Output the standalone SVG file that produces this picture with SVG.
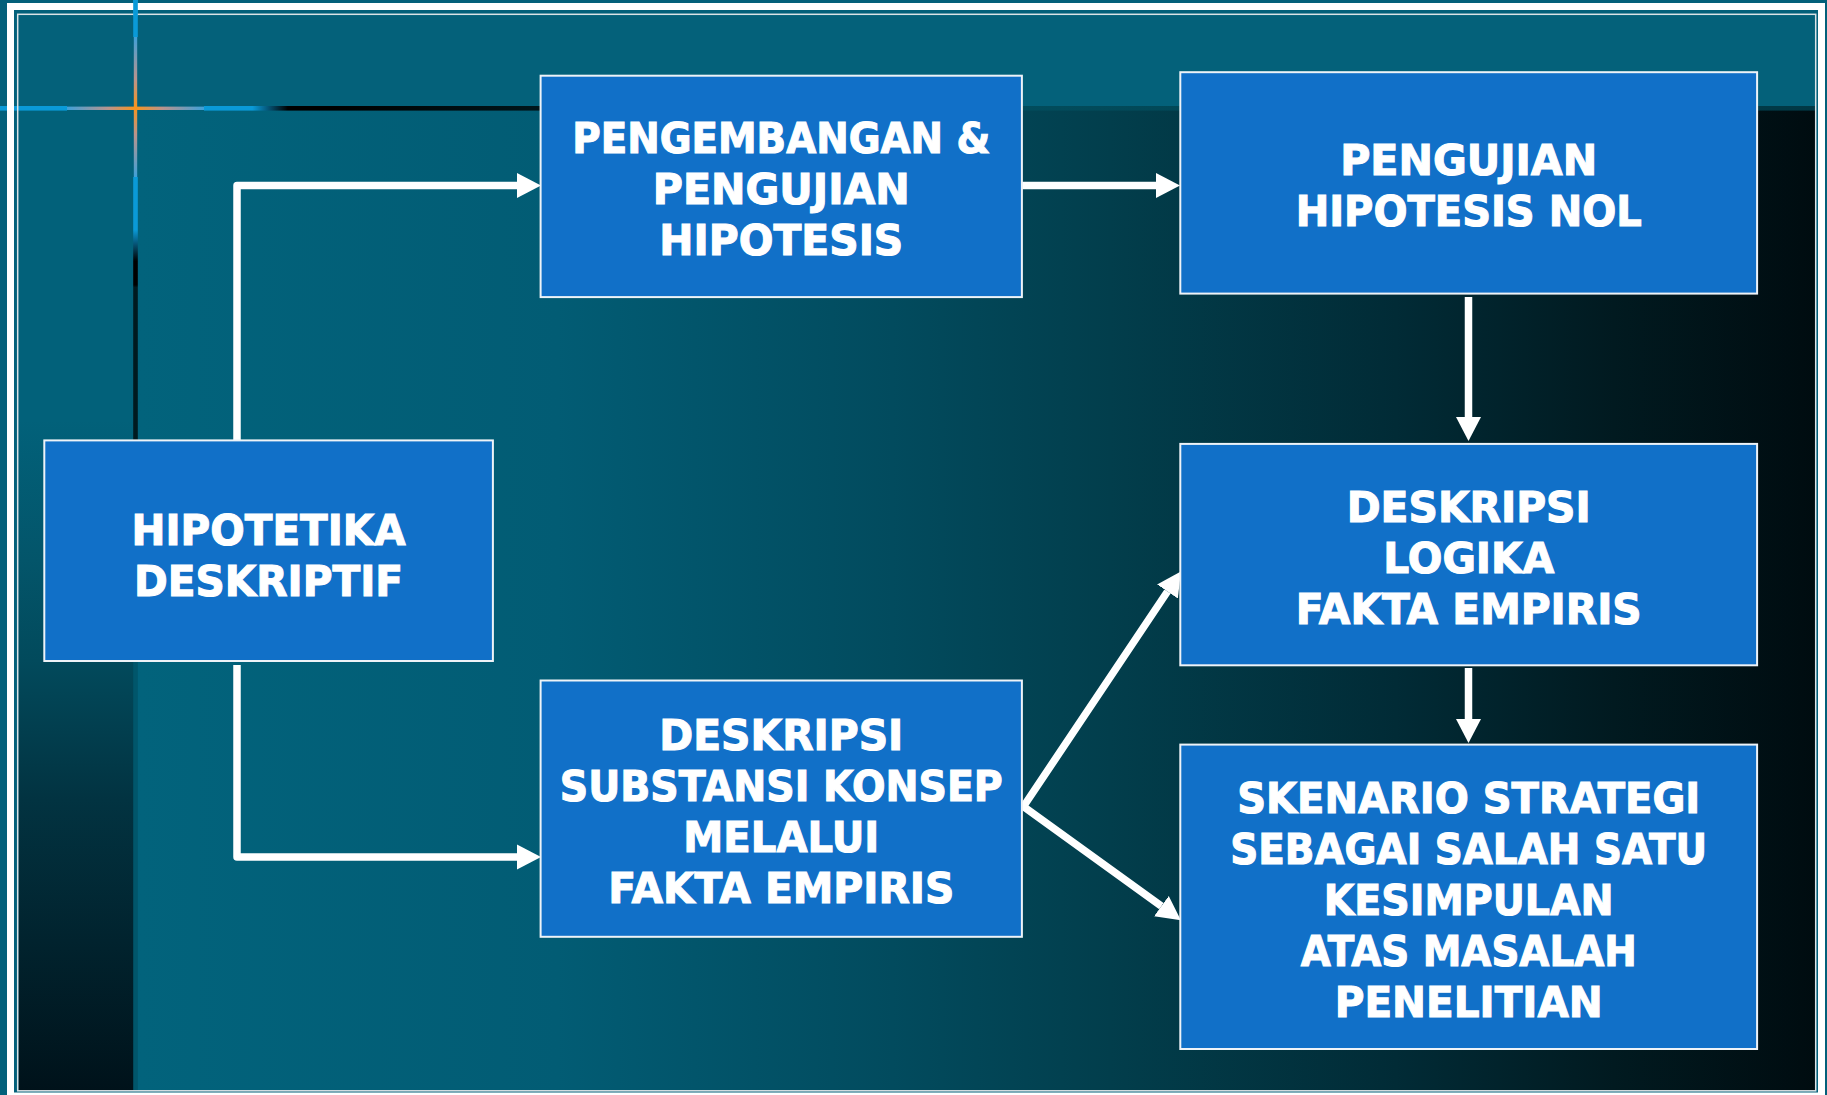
<svg xmlns="http://www.w3.org/2000/svg" width="1827" height="1095" viewBox="0 0 1827 1095">
  <defs>
    <style>
      .box { fill: #1170C8; stroke: #EEF3F8; stroke-width: 2; }
      .lbl { font-family: "DejaVu Sans", "Liberation Sans", sans-serif; font-weight: bold; font-size: 42px; fill: #FFFFFF; stroke: #FFFFFF; stroke-width: 1.1px; text-anchor: middle; }
      .conn { fill: none; stroke: #FFFFFF; stroke-width: 7.5; stroke-linejoin: round; }
    </style>
    <marker id="arr" markerUnits="userSpaceOnUse" markerWidth="30" markerHeight="30" viewBox="0 -15 30 30" refX="0" refY="0" orient="auto-start-reverse">
      <path d="M0,-12.5 L24,0 L0,12.5 Z" fill="#FFFFFF"/>
    </marker>
    <linearGradient id="mainG" gradientUnits="userSpaceOnUse" x1="138" y1="0" x2="1815" y2="0">
      <stop offset="0" stop-color="#02637C"/>
      <stop offset="0.25" stop-color="#025C74"/>
      <stop offset="0.45" stop-color="#024B5E"/>
      <stop offset="0.58" stop-color="#023E4C"/>
      <stop offset="0.75" stop-color="#012B36"/>
      <stop offset="0.88" stop-color="#011A20"/>
      <stop offset="1" stop-color="#000C10"/>
    </linearGradient>
    <linearGradient id="leftG" gradientUnits="userSpaceOnUse" x1="0" y1="110" x2="0" y2="1091">
      <stop offset="0" stop-color="#02617A"/>
      <stop offset="0.316" stop-color="#02617A"/>
      <stop offset="0.459" stop-color="#03556A"/>
      <stop offset="0.561" stop-color="#024A5C"/>
      <stop offset="0.703" stop-color="#023341"/>
      <stop offset="1" stop-color="#00121A"/>
    </linearGradient>
    <linearGradient id="crossH" gradientUnits="userSpaceOnUse" x1="67" y1="0" x2="204" y2="0">
      <stop offset="0" stop-color="#3FA0D8"/>
      <stop offset="0.3" stop-color="#B8948E"/>
      <stop offset="0.5" stop-color="#F7941D"/>
      <stop offset="0.7" stop-color="#B8948E"/>
      <stop offset="1" stop-color="#3FA0D8"/>
    </linearGradient>
    <linearGradient id="crossV" gradientUnits="userSpaceOnUse" x1="0" y1="37" x2="0" y2="177">
      <stop offset="0" stop-color="#3FA0D8"/>
      <stop offset="0.3" stop-color="#B8948E"/>
      <stop offset="0.5" stop-color="#F7941D"/>
      <stop offset="0.7" stop-color="#B8948E"/>
      <stop offset="1" stop-color="#3FA0D8"/>
    </linearGradient>
    <linearGradient id="fadeH" gradientUnits="userSpaceOnUse" x1="204" y1="0" x2="1816" y2="0">
      <stop offset="0" stop-color="#0A9AD8"/>
      <stop offset="0.03" stop-color="#0A9AD8"/>
      <stop offset="0.052" stop-color="#000000"/>
      <stop offset="0.08" stop-color="#000000"/>
      <stop offset="0.21" stop-color="#00161B"/>
      <stop offset="0.505" stop-color="#024C5C"/>
      <stop offset="1" stop-color="#013845"/>
    </linearGradient>
    <linearGradient id="fadeV" gradientUnits="userSpaceOnUse" x1="0" y1="177" x2="0" y2="440">
      <stop offset="0" stop-color="#0A9AD8"/>
      <stop offset="0.2" stop-color="#0A9AD8"/>
      <stop offset="0.32" stop-color="#000000"/>
      <stop offset="0.41" stop-color="#000000"/>
      <stop offset="0.42" stop-color="#001A20"/>
      <stop offset="1" stop-color="#001A20"/>
    </linearGradient>
  </defs>

  <!-- background -->
  <g id="background">
    <rect x="0" y="0" width="1827" height="1095" fill="#03607A"/>
    <rect x="18.5" y="15" width="1797" height="93" fill="#04617A"/>
    <rect x="136" y="108" width="1679.5" height="983" fill="url(#mainG)"/>
    <rect x="18.5" y="108" width="117.5" height="983" fill="url(#leftG)"/>
    <rect x="133.2" y="661" width="4.6" height="430" fill="#01566B"/>
    <!-- decorative cross lines -->
    <rect x="0" y="106" width="67" height="4.6" fill="#0A9AD8"/>
    <rect x="67" y="106.6" width="137" height="3.4" fill="url(#crossH)"/>
    <rect x="204" y="106" width="1612" height="4.6" fill="url(#fadeH)"/>
    <rect x="133.2" y="0" width="4.6" height="37" fill="#0A9AD8"/>
    <rect x="133.8" y="37" width="3.4" height="140" fill="url(#crossV)"/>
    <rect x="133.2" y="177" width="4.6" height="263" fill="url(#fadeV)"/>
  </g>

  <!-- frame -->
  <g id="frame">
    <rect x="10.5" y="6.5" width="1811" height="1089.5" fill="none" stroke="#FFFFFF" stroke-width="7"/>
    <rect x="17.7" y="14.3" width="1798" height="1076.5" fill="none" stroke="#DCE3E6" stroke-width="1.5"/>
    <rect x="133.2" y="0" width="4.6" height="16" fill="#0A9AD8"/>
  </g>

  <!-- connectors -->
  <g id="connectors">
    <path class="conn" d="M237,440 L237,185.5 L517,185.5" marker-end="url(#arr)"/>
    <path class="conn" d="M1022,185.5 L1156,185.5" marker-end="url(#arr)"/>
    <path class="conn" d="M1468.5,297 L1468.5,417" marker-end="url(#arr)"/>
    <path class="conn" d="M1468.5,668 L1468.5,719" marker-end="url(#arr)"/>
    <path class="conn" d="M237,665 L237,857 L517,857" marker-end="url(#arr)"/>
    <path class="conn" style="stroke-linejoin:miter" d="M1167.5,591.5 L1023.5,806.5 L1161.4,906.1" marker-start="url(#arr)" marker-end="url(#arr)"/>
  </g>

  <!-- nodes -->
  <g id="node-pengembangan">
    <rect class="box" x="540.6" y="75.7" width="481.3" height="221.4"/>
    <text class="lbl" x="781.3" y="153" textLength="418" lengthAdjust="spacingAndGlyphs">PENGEMBANGAN &amp;</text>
    <text class="lbl" x="781.3" y="204" textLength="257" lengthAdjust="spacingAndGlyphs">PENGUJIAN</text>
    <text class="lbl" x="781.3" y="255" textLength="244" lengthAdjust="spacingAndGlyphs">HIPOTESIS</text>
  </g>

  <g id="node-pengujian-nol">
    <rect class="box" x="1180.3" y="72.2" width="576.8" height="221.4"/>
    <text class="lbl" x="1468.7" y="175" textLength="257" lengthAdjust="spacingAndGlyphs">PENGUJIAN</text>
    <text class="lbl" x="1468.7" y="226" textLength="346" lengthAdjust="spacingAndGlyphs">HIPOTESIS NOL</text>
  </g>

  <g id="node-hipotetika">
    <rect class="box" x="44.3" y="440.4" width="448.6" height="220.6"/>
    <text class="lbl" x="268.6" y="545" textLength="274" lengthAdjust="spacingAndGlyphs">HIPOTETIKA</text>
    <text class="lbl" x="268.6" y="596" textLength="269" lengthAdjust="spacingAndGlyphs">DESKRIPTIF</text>
  </g>

  <g id="node-deskripsi-logika">
    <rect class="box" x="1180.3" y="443.9" width="576.8" height="221.4"/>
    <text class="lbl" x="1468.7" y="522" textLength="244" lengthAdjust="spacingAndGlyphs">DESKRIPSI</text>
    <text class="lbl" x="1468.7" y="573" textLength="171" lengthAdjust="spacingAndGlyphs">LOGIKA</text>
    <text class="lbl" x="1468.7" y="624" textLength="346" lengthAdjust="spacingAndGlyphs">FAKTA EMPIRIS</text>
  </g>

  <g id="node-deskripsi-substansi">
    <rect class="box" x="540.6" y="680.5" width="481.3" height="256.3"/>
    <text class="lbl" x="781.3" y="750" textLength="244" lengthAdjust="spacingAndGlyphs">DESKRIPSI</text>
    <text class="lbl" x="781.3" y="801" textLength="443" lengthAdjust="spacingAndGlyphs">SUBSTANSI KONSEP</text>
    <text class="lbl" x="781.3" y="852" textLength="196" lengthAdjust="spacingAndGlyphs">MELALUI</text>
    <text class="lbl" x="781.3" y="903" textLength="346" lengthAdjust="spacingAndGlyphs">FAKTA EMPIRIS</text>
  </g>

  <g id="node-skenario">
    <rect class="box" x="1180.3" y="744.6" width="576.8" height="304.4"/>
    <text class="lbl" x="1468.7" y="812.5" textLength="463" lengthAdjust="spacingAndGlyphs">SKENARIO STRATEGI</text>
    <text class="lbl" x="1468.7" y="863.5" textLength="477" lengthAdjust="spacingAndGlyphs">SEBAGAI SALAH SATU</text>
    <text class="lbl" x="1468.7" y="914.5" textLength="290" lengthAdjust="spacingAndGlyphs">KESIMPULAN</text>
    <text class="lbl" x="1468.7" y="965.5" textLength="336" lengthAdjust="spacingAndGlyphs">ATAS MASALAH</text>
    <text class="lbl" x="1468.7" y="1016.5" textLength="268" lengthAdjust="spacingAndGlyphs">PENELITIAN</text>
  </g>
</svg>
